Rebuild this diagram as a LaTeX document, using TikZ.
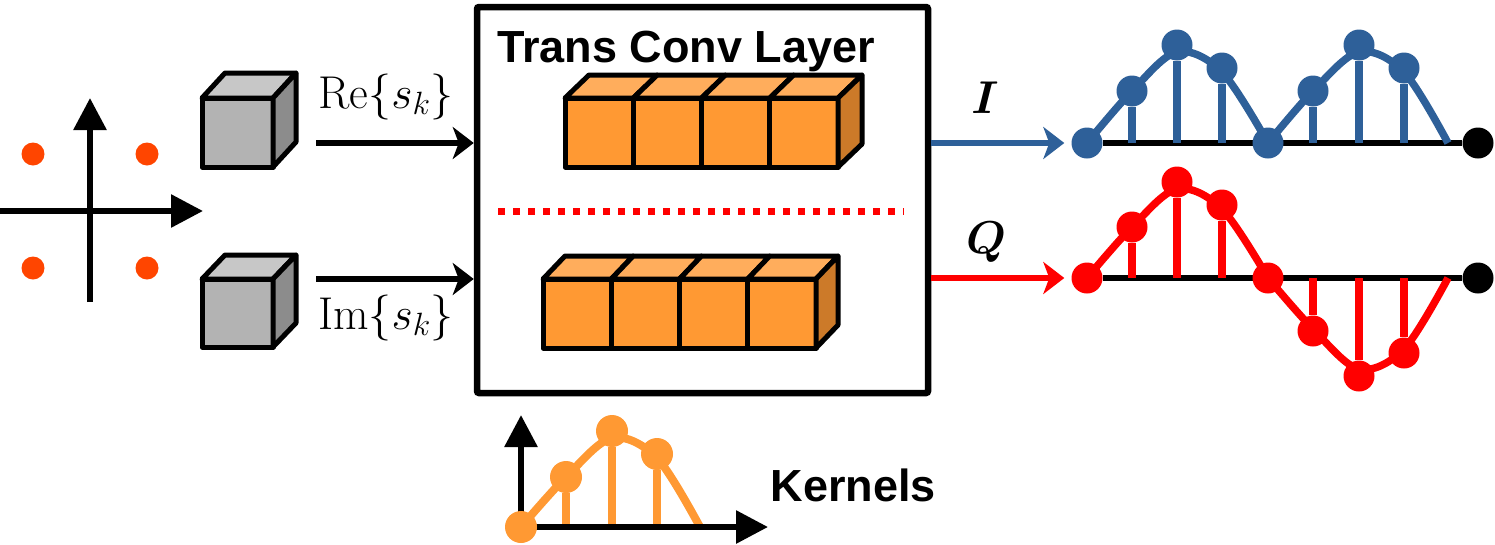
\RequirePackage{fix-cm}
\documentclass[tikz,border=0pt]{standalone}
\usepackage{amsmath}
\usepackage{fontspec}
\newfontfamily\labsans{Liberation Sans}
\usetikzlibrary{arrows.meta}
\pgfdeclarelayer{background}
\pgfsetlayers{background,main}
\definecolor{orgFront}{RGB}{255,153,51}
\definecolor{orgTop}{RGB}{255,173,92}
\definecolor{orgSide}{RGB}{204,122,41}
\definecolor{gryFront}{RGB}{179,179,179}
\definecolor{gryTop}{RGB}{199,199,199}
\definecolor{grySide}{RGB}{140,140,140}
\definecolor{cBlue}{RGB}{46,96,153}
\definecolor{cRed}{RGB}{255,0,0}
\definecolor{cConst}{RGB}{255,69,0}
\definecolor{cKern}{RGB}{255,153,51}
\newcommand\cubeunit[7]{%
  \draw[cubeline, fill=#7Top] (#1,#2) -- ++(#5,-#6) -- ++(#3,0) -- ++(-#5,#6) -- cycle;
  \draw[cubeline, fill=#7Front] (#1,#2) rectangle ++(#3,#4);
}
\newcommand\cubeside[7]{%
  \draw[cubeline, fill=#7Side] (#1+#3,#2) -- ++(#5,-#6) -- ++(0,#4) -- ++(-#5,#6) -- cycle;
}
\begin{document}
\begin{tikzpicture}[x=1pt,y=-1pt,
  ax/.style={line width=6pt, -{Triangle[length=32pt,width=32pt]}},
  flow/.style={line width=6pt, -{Stealth[length=21pt,width=32pt,inset=6pt]}},
  cubeline/.style={line width=5pt, line join=round},
  dot/.style={circle, inner sep=0pt, minimum size=31pt, fill=#1},
  cdot/.style={circle, inner sep=0pt, minimum size=23pt, fill=cConst},
  stem/.style={line width=7.3pt},
  wave/.style={line width=7.5pt},
  base/.style={line width=6pt, black},
  titlefont/.style={font=\labsans\bfseries\fontsize{45}{54}\selectfont},
  mathlab/.style={font=\fontsize{46}{54}\selectfont}]
\useasboundingbox (0,0) rectangle (1495,544);

% constellation
\coordinate (hx0) at (0,211);
\coordinate (hx1) at (203,211);
\coordinate (vy0) at (90,302);
\coordinate (vy1) at (90,98);
\draw[ax] (hx0) -- (hx1);
\draw[ax] (vy0) -- (vy1);
\node[cdot] (c1) at (33,154) {};
\node[cdot] (c2) at (147,154) {};
\node[cdot] (c3) at (33,268) {};
\node[cdot] (c4) at (147,268) {};

% gray cubes
\cubeunit{202}{98}{71}{69}{23}{25}{gry}
\cubeside{202}{98}{71}{69}{23}{25}{gry}
\cubeunit{202}{279}{71}{68}{23}{24}{gry}
\cubeside{202}{279}{71}{68}{23}{24}{gry}

% main layer box
\node[draw, line width=6.5pt, rounded corners=2pt, minimum width=451pt,
      minimum height=386pt, inner sep=0pt] (layer) at (702.5,200) {};
\node[titlefont, anchor=base] (title) at (686,62) {Trans Conv Layer};

% orange blocks
\foreach \i in {0,...,3} {\cubeunit{565+68.25*\i}{98}{68.25}{69}{24}{23}{org}}
\cubeside{769.75}{98}{68.25}{69}{24}{23}{org}
\foreach \i in {0,...,3} {\cubeunit{543+68.25*\i}{279}{68.25}{69}{22}{23}{org}}
\cubeside{747.75}{279}{68.25}{69}{22}{23}{org}

\draw[cRed, line width=7pt, dash pattern=on 7pt off 8pt] (498,211) -- (904,211);

% inputs
\coordinate (reS) at (316,143);
\coordinate (imS) at (316,279);
\draw[flow] (reS) -- (reS -| layer.west);
\draw[flow] (imS) -- (imS -| layer.west);
\node[mathlab, anchor=base] (relab) at (386,108) {$\mathrm{Re}\{s_k\}$};
\node[mathlab, anchor=base] (imlab) at (386,329) {$\mathrm{Im}\{s_k\}$};

% I signal
\node[dot=cBlue] (i1) at (1087,143) {};
\node[dot=cBlue] (i2) at (1132,91) {};
\node[dot=cBlue] (i3) at (1177,45) {};
\node[dot=cBlue] (i4) at (1222,68) {};
\node[dot=cBlue] (i5) at (1268,143) {};
\node[dot=cBlue] (i6) at (1313,91) {};
\node[dot=cBlue] (i7) at (1359,45) {};
\node[dot=cBlue] (i8) at (1404,68) {};
\node[dot=black] (iend) at (1478,143) {};
\draw[flow, cBlue, shorten >=7pt] (layer.east |- i1) -- (i1.west);
\node[mathlab, anchor=base] (ilab) at (985,113) {$\boldsymbol{I}$};

% Q signal
\node[dot=cRed] (q1) at (1087,278) {};
\node[dot=cRed] (q2) at (1132,227) {};
\node[dot=cRed] (q3) at (1177,182) {};
\node[dot=cRed] (q4) at (1222,205) {};
\node[dot=cRed] (q5) at (1268,278) {};
\node[dot=cRed] (q6) at (1313,331) {};
\node[dot=cRed] (q7) at (1359,376) {};
\node[dot=cRed] (q8) at (1404,353) {};
\node[dot=black] (qend) at (1478,278) {};
\draw[flow, cRed, shorten >=7pt] (layer.east |- q1) -- (q1.west);
\node[mathlab, anchor=base] (qlab) at (986,253) {$\boldsymbol{Q}$};

% kernel
\coordinate (k0) at (521,527);
\coordinate (kx) at (768,527);
\coordinate (ky) at (521,415);
\draw[ax] (k0) -- (kx);
\draw[ax] (k0) -- (ky);
\node[dot=cKern, minimum size=32pt] (k1) at (521,527) {};
\node[dot=cKern, minimum size=32pt] (k2) at (566,477) {};
\node[dot=cKern, minimum size=32pt] (k3) at (612,431) {};
\node[dot=cKern, minimum size=32pt] (k4) at (657,454) {};
\node[titlefont, anchor=base west] (klab) at (767,501) {Kernels};

\begin{pgfonlayer}{background}
  \draw[base] (i1) -- (iend);
  \draw[base] (q1) -- (qend);
  \foreach \n in {i2,i3,i4,i6,i7,i8} {\draw[stem, cBlue] (\n) -- (\n |- i1);}
  \foreach \n in {q2,q3,q4,q6,q7,q8} {\draw[stem, cRed] (\n) -- (\n |- q1);}
  \foreach \n in {k2,k3,k4} {\draw[stem, cKern] (\n) -- (\n |- k1);}
  \draw[wave, cBlue] plot[smooth, tension=0.55] coordinates {(1087,143) (1132,91) (1177,52) (1222,72) (1268,143)};
  \draw[wave, cBlue] plot[smooth, tension=0.55] coordinates {(1268,143) (1313,91) (1359,52) (1404,72) (1448,143)};
  \draw[wave, cRed] plot[smooth, tension=0.55] coordinates {(1087,278) (1132,227) (1177,189) (1222,209) (1268,278)};
  \draw[wave, cRed] plot[smooth, tension=0.55] coordinates {(1268,278) (1313,329) (1359,369) (1404,349) (1448,278)};
  \draw[wave, cKern, line width=8pt] plot[smooth, tension=0.55] coordinates {(521,527) (566,477) (612,438) (657,458) (700,527)};
\end{pgfonlayer}
\end{tikzpicture}
\end{document}
